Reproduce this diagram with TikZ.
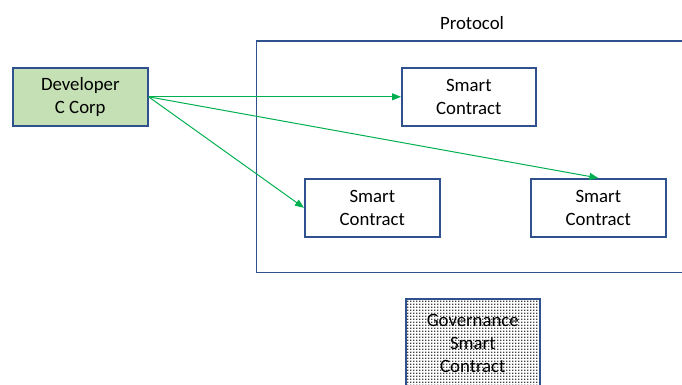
\documentclass[tikz,border=0pt]{standalone}
\usepackage{fontspec}
\setmainfont{Carlito}
\usetikzlibrary{arrows.meta,patterns}
\definecolor{boxblue}{HTML}{2F528F}
\definecolor{arrgreen}{HTML}{00B050}
\definecolor{devfill}{HTML}{C5E0B4}
\pgfdeclarepatternformonly{bigdots}{\pgfqpoint{-1pt}{-1pt}}{\pgfqpoint{2pt}{2pt}}{\pgfqpoint{3pt}{3pt}}%
{\pgfpathrectangle{\pgfqpoint{-0.7pt}{-0.7pt}}{\pgfqpoint{1.4pt}{1.4pt}}\pgfusepath{fill}}
\tikzset{
  box/.style={draw=boxblue, line width=1.6pt, minimum width=134pt, minimum height=58pt, inner sep=0pt, align=center, font=\fontsize{18.8}{23}\selectfont, anchor=north west},
  conn/.style={draw=arrgreen, line width=1pt, -{Triangle[length=9pt,width=7pt]}}
}
\begin{document}
\begin{tikzpicture}[x=1pt,y=-1pt]
\useasboundingbox (0,0) rectangle (682,384);
\clip (0,0) rectangle (682,384);
\draw[boxblue, line width=1.6pt] (700,41) -- (256.5,41) -- (256.5,272.5) -- (700,272.5);
\node[font=\fontsize{18.8}{23}\selectfont] (proto) at (472,23) {Protocol};
\node[box, fill=devfill, minimum width=135pt] (dev) at (12,67) {Developer\\C Corp};
\node[box] (sc1) at (401,67) {Smart\\Contract};
\node[box, minimum width=135pt] (sc2) at (304,178) {Smart\\Contract};
\node[box, minimum width=135pt] (sc3) at (530,178) {Smart\\Contract};
\node[box, pattern=bigdots, pattern color=black!75, minimum height=90pt] (gov) at (405,298) {Governance\\Smart\\Contract};
\draw[conn] (dev.east) -- (sc1.west);
\draw[conn] (dev.east) -- (sc2.west);
\draw[conn] (dev.east) -- (sc3.north);
\end{tikzpicture}
\end{document}
